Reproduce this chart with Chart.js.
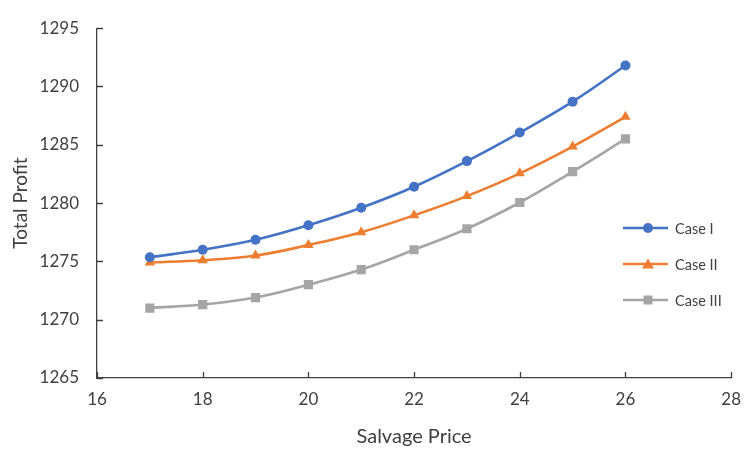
<!DOCTYPE html>
<html>
<head>
<meta charset="utf-8">
<script src="https://cdn.jsdelivr.net/npm/chart.js@4/dist/chart.umd.min.js"></script>
<style>
  html, body { margin: 0; padding: 0; background: #fff; }
  #wrap { position: relative; width: 752px; height: 449px; }
  canvas { display: block; }
  #legend { position: absolute; left: 620px; top: 216px; font-family: Lato, "Open Sans", sans-serif; font-size: 14.5px; color: #404040; }
  .row { position: absolute; left: 0; height: 24px; display: flex; align-items: center; white-space: nowrap; }
  .row svg { display: block; margin-right: 5px; }
</style>
</head>
<body>
<div id="wrap">
  <canvas id="c" width="752" height="449"></canvas>
  <div id="legend"></div>
</div>
<script>
// ---- data ----
const salvagePrice = [17, 18, 19, 20, 21, 22, 23, 24, 25, 26];
const caseI   = [1275.35, 1276.0, 1276.85, 1278.1, 1279.6, 1281.4, 1283.6, 1286.05, 1288.7, 1291.8];
const caseII  = [1274.9, 1275.1, 1275.5, 1276.4, 1277.5, 1278.95, 1280.6, 1282.55, 1284.85, 1287.4];
const caseIII = [1271.0, 1271.3, 1271.9, 1273.0, 1274.3, 1276.0, 1277.8, 1280.05, 1282.7, 1285.5];
const seriesNames = ["Case I", "Case II", "Case III"];
const xTicks = [16, 18, 20, 22, 24, 26, 28];
const yTicks = [1265, 1270, 1275, 1280, 1285, 1290, 1295];
const xTitle = "Salvage Price";
const yTitle = "Total Profit";

const colors = ["#4472C4", "#ED7D31", "#A5A5A5"];
const styles = ["circle", "triangle", "rect"];
const radii = [5, 6, 6.5];
const FONT = 'Lato, "Open Sans", sans-serif';
const TXT = "#404040";

function pts(ys) { return salvagePrice.map((x, i) => ({ x: x, y: ys[i] })); }
const allSeries = [caseI, caseII, caseIII];

const datasets = allSeries.map((s, i) => ({
  label: seriesNames[i],
  data: pts(s),
  borderColor: colors[i],
  backgroundColor: colors[i],
  borderWidth: 2.6,
  pointStyle: styles[i],
  pointRadius: radii[i],
  pointHoverRadius: radii[i],
  pointBorderWidth: 0,
  tension: 0.4,
  fill: false
}));

// inside tick marks drawn from scale positions
const insideTicks = {
  id: 'insideTicks',
  afterDraw(chart) {
    const ctx = chart.ctx;
    const xs = chart.scales.x, ys = chart.scales.y;
    const ca = chart.chartArea;
    ctx.save();
    ctx.strokeStyle = "#404040";
    ctx.lineWidth = 1.3;
    ctx.beginPath();
    xs.ticks.forEach((t) => {
      const px = Math.round(xs.getPixelForValue(t.value)) + 0.5;
      ctx.moveTo(px, ca.bottom);
      ctx.lineTo(px, ca.bottom - 6);
    });
    ys.ticks.forEach((t) => {
      const py = Math.round(ys.getPixelForValue(t.value)) + 0.5;
      ctx.moveTo(ca.left, py);
      ctx.lineTo(ca.left + 6, py);
    });
    ctx.stroke();
    ctx.restore();
  }
};

new Chart(document.getElementById('c'), {
  type: 'line',
  data: { datasets: datasets },
  plugins: [insideTicks],
  options: {
    responsive: false,
    animation: false,
    events: [],
    layout: { padding: { left: 0, right: 14, top: 22, bottom: 0 } },
    plugins: { legend: { display: false }, tooltip: { enabled: false } },
    scales: {
      x: {
        type: 'linear',
        min: xTicks[0], max: xTicks[xTicks.length - 1],
        afterBuildTicks(scale) { scale.ticks = xTicks.map(v => ({ value: v })); },
        grid: { display: true, drawOnChartArea: false, drawTicks: false },
        border: { display: true, color: "#404040", width: 1.3 },
        ticks: { color: TXT, font: { family: FONT, size: 17 }, padding: 11, maxRotation: 0,
                 callback: (v) => String(v) },
        title: { display: true, text: xTitle, color: TXT, font: { family: FONT, size: 20 }, padding: { top: 0, bottom: 0 } },
        afterFit(scale) { scale.height = 71; }
      },
      y: {
        type: 'linear',
        min: yTicks[0], max: yTicks[yTicks.length - 1],
        afterBuildTicks(scale) { scale.ticks = yTicks.map(v => ({ value: v })); },
        grid: { display: true, drawOnChartArea: false, drawTicks: false },
        border: { display: true, color: "#404040", width: 1.3 },
        ticks: { color: TXT, font: { family: FONT, size: 17 }, padding: 18,
                 callback: (v) => String(v) },
        title: { display: true, text: yTitle, color: TXT, font: { family: FONT, size: 19 }, padding: { top: 9, bottom: 4 } },
        afterFit(scale) { scale.width = 97; }
      }
    }
  }
});

// HTML legend
const legend = document.getElementById('legend');
const rowTops = [0, 36, 72];
seriesNames.forEach((name, i) => {
  const row = document.createElement('div');
  row.className = 'row';
  row.style.top = rowTops[i] + 'px';
  let marker;
  if (styles[i] === 'circle') marker = `<circle cx="28" cy="12" r="5" fill="${colors[i]}"/>`;
  else if (styles[i] === 'triangle') marker = `<polygon points="28,6.5 34,16.5 22,16.5" fill="${colors[i]}"/>`;
  else marker = `<rect x="23.5" y="7.5" width="9" height="9" fill="${colors[i]}"/>`;
  row.innerHTML = `<svg width="50" height="24"><line x1="3" y1="12" x2="48" y2="12" stroke="${colors[i]}" stroke-width="2.5"/>${marker}</svg><span>${name}</span>`;
  legend.appendChild(row);
});
</script>
</body>
</html>
